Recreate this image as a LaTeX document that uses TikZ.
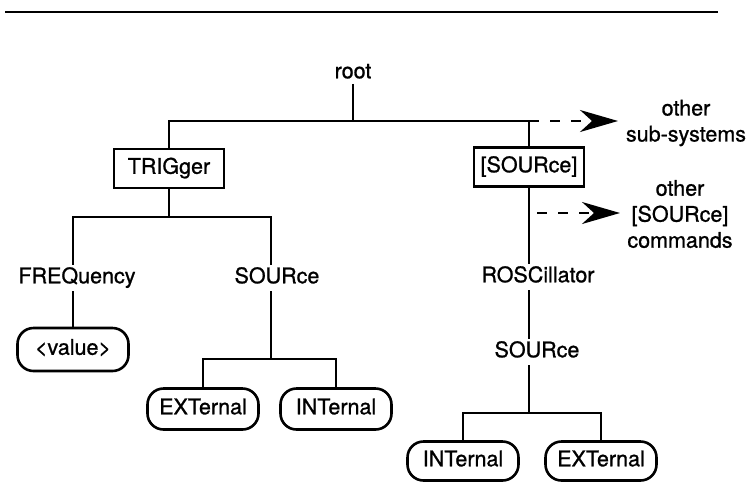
\documentclass[tikz,border=0pt]{standalone}
\usepackage{fontspec}
\setmainfont{TeX Gyre Heros}[FakeBold=1.0]
\usetikzlibrary{arrows.meta}
\begin{document}
\begin{tikzpicture}[x=1pt,y=-1pt,
  lbl/.style={font=\fontsize{21.5}{26}\selectfont, text height=15pt, text depth=4.5pt, inner sep=3.5pt},
  note/.style={font=\fontsize{21.5}{26}\selectfont, align=center, inner sep=0pt},
  conn/.style={line width=2.2pt},
  sqbox/.style={lbl, draw, line width=2.6pt, minimum width=110pt, minimum height=39pt, inner sep=0pt},
  rbox/.style={lbl, draw, line width=2.6pt, rounded corners=16pt, minimum width=111pt, minimum height=41pt, inner sep=0pt},
  dashline/.style={line width=2.2pt, dash pattern=on 10pt off 11pt, -{Stealth[length=38pt,width=22pt,inset=12pt]}}]
\useasboundingbox (0,0) rectangle (754,485);
% top rule
\draw[line width=2.4pt] (5,12) -- (718,12);
% top level
\node[lbl, inner sep=1pt] (root) at (353,73) {root};
\coordinate (j0) at (353,121);
\node[sqbox] (trig) at (169,168.5) {TRIGger};
\node[sqbox] (src) at (529,167) {[SOURce]};
\draw[conn] (root) -- (j0);
\draw[conn] (trig.north) -- (trig.north |- j0) -- (src.north |- j0) -- (src.north);
\coordinate (a1e) at (618,121);
\draw[dashline] (src.north |- j0) -- (a1e);
\node[note] (n1) at (686,123) {other\\sub-systems};
% left subtree
\coordinate (j1) at (169,217);
\node[lbl] (freq) at (77,278) {FREQuency};
\node[lbl] (srcL) at (277,278) {SOURce};
\node[rbox, minimum height=43pt] (val) at (73,349.5) {<value>};
\coordinate (jl) at (271,359);
\node[rbox] (ext1) at (203,409) {EXTernal};
\node[rbox] (int1) at (336,409) {INTernal};
\draw[conn] (trig.south) -- (j1);
\draw[conn] (val.north |- freq.north) -- (val.north |- j1) -- (jl |- j1) -- (jl |- srcL.north);
\draw[conn] (freq.south -| val.north) -- (val.north);
\draw[conn] (jl |- srcL.south) -- (jl);
\draw[conn] (ext1.north) -- (ext1.north |- jl) -- (int1.north |- jl) -- (int1.north);
% right subtree
\coordinate (a2s) at (537,213);
\coordinate (a2e) at (620,213);
\draw[dashline] (a2s) -- (a2e);
\node[note] (n2) at (680,214) {other\\\relax[SOURce]\\commands};
\node[lbl] (rosc) at (538,277) {ROSCillator};
\node[lbl] (srcR) at (537,352) {SOURce};
\coordinate (jr) at (529,413);
\node[rbox, minimum height=39pt] (int2) at (463,461) {INTernal};
\node[rbox, minimum height=39pt] (ext2) at (601,461) {EXTernal};
\draw[conn] (src.south) -- (src.south |- rosc.north);
\draw[conn] (src.south |- rosc.south) -- (src.south |- srcR.north);
\draw[conn] (src.south |- srcR.south) -- (jr);
\draw[conn] (int2.north) -- (int2.north |- jr) -- (ext2.north |- jr) -- (ext2.north);
\end{tikzpicture}
\end{document}
